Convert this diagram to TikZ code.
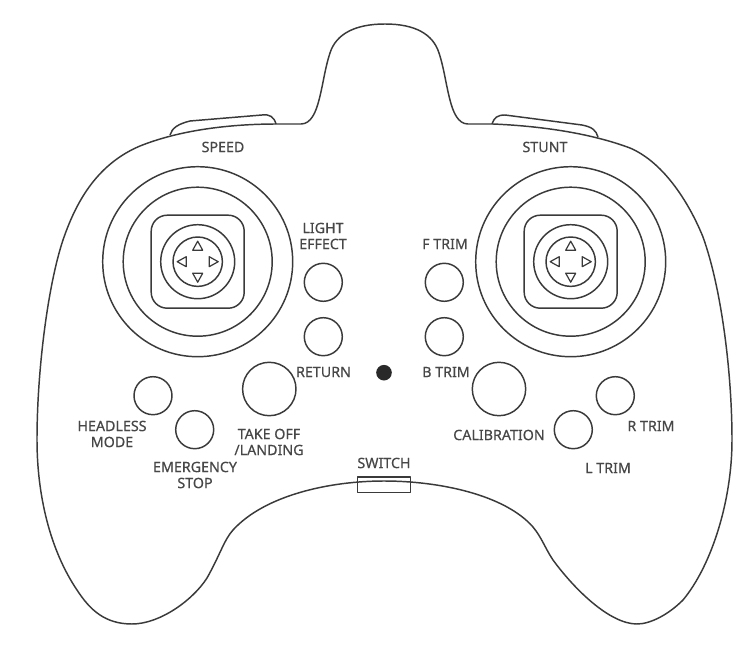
\documentclass[tikz,border=0pt]{standalone}
\usepackage{fontspec}
\setmainfont{Noto Sans}
\newfontfamily\lblfont[FakeBold=0.5]{Noto Sans}
\definecolor{ink}{HTML}{3A3A3A}
\definecolor{txt}{HTML}{474747}
\tikzset{
  line/.style={draw=ink,line width=1.1pt,line join=round},
  lbl/.style={text=txt,inner sep=0pt,align=center,font=\lblfont\fontsize{10.7pt}{12pt}\selectfont},
  btn/.style={line},
  tri/.style={line,line width=0.9pt}
}
\newcommand{\stickpad}[1]{%
  \begin{scope}[shift={(#1)}]
    \draw[line] (0,0) circle[radius=95];
    \draw[line] (0,0) circle[radius=74.5];
    \draw[line,rounded corners=12pt] (-46.5,-46.5) rectangle (46.5,46.5);
    \draw[line] (0,0) circle[radius=37];
    \draw[line] (0,0) circle[radius=24.7];
    \foreach \r in {0,90,180,270}
      \draw[tri,rotate=\r] (-5,-11.5) -- (5,-11.5) -- (0,-20.5) -- cycle;
  \end{scope}}
\begin{document}
\begin{tikzpicture}[x=0.75pt,y=-0.75pt]
\useasboundingbox (0,0) rectangle (754,646);
\fill[white] (0,0) rectangle (754,646);
% body
\draw[line] (277,124) -- (301,124)
 .. controls (311,124) and (316,112) .. (319,100)
 .. controls (323,85) and (325,68) .. (330,53)
 .. controls (336,34) and (355,24) .. (385,24)
 .. controls (415,24) and (433,34) .. (439,53)
 .. controls (444,68) and (446,85) .. (450,100)
 .. controls (453,112) and (458,124) .. (468,124)
 -- (493,124)
 .. controls (540,126) and (590,133) .. (630,148)
 .. controls (665,163) and (690,205) .. (703,237)
 .. controls (722,290) and (732,375) .. (732,440)
 .. controls (732,500) and (712,565) .. (683,600)
 .. controls (668,615) and (650,624) .. (637,624)
 .. controls (610,624) and (575,590) .. (553,560)
 .. controls (545,548) and (542,538) .. (533,527)
 .. controls (505,495) and (440,481) .. (384,481)
 .. controls (330,481) and (265,495) .. (233,530)
 .. controls (224,540) and (220,555) .. (207,578)
 .. controls (193,600) and (160,624) .. (132,624)
 .. controls (105,624) and (90,610) .. (77,590)
 .. controls (50,550) and (37,495) .. (37,440)
 .. controls (37,370) and (48,285) .. (63,240)
 .. controls (75,205) and (95,165) .. (140,146)
 .. controls (180,130) and (230,124) .. (277,124) -- cycle;
% shoulder buttons
\draw[line] (170,135) .. controls (172,128) and (178,124) .. (190,121) -- (262,115) .. controls (270,114) and (274,117) .. (276,124);
\draw[line] (492,124) .. controls (494,118) and (497,115) .. (505,115) -- (582,125) .. controls (592,127) and (596,130) .. (598,137);
% sticks
\stickpad{197.7,261.7}
\stickpad{570.7,261.7}
% buttons
\draw[btn] (323.3,282.3) circle[radius=19];
\draw[btn] (323.3,336.7) circle[radius=19];
\draw[btn] (444.3,282.3) circle[radius=19];
\draw[btn] (444.3,336.7) circle[radius=19];
\draw[btn] (269.3,389) circle[radius=26.7];
\draw[btn] (499,389) circle[radius=26.7];
\draw[btn] (153,395.7) circle[radius=19];
\draw[btn] (194.7,429.7) circle[radius=19];
\draw[btn] (615.3,395.7) circle[radius=19];
\draw[btn] (573.3,429.7) circle[radius=19];
\fill[ink!70!black] (384,372.7) circle[radius=7.8];
% switch
\draw[line] (357.7,477) rectangle (410.7,492.7);
% labels
\node[lbl] (speed) at (223,147) {SPEED};
\node[lbl] (stunt) at (545,147) {STUNT};
\node[lbl] (light) at (323,236) {LIGHT\\EFFECT};
\node[lbl] (ftrim) at (445,244) {F TRIM};
\node[lbl] (return) at (323.5,372) {RETURN};
\node[lbl] (btrim) at (446,372) {B TRIM};
\node[lbl] (headless) at (112,434) {HEADLESS\\MODE};
\node[lbl] (takeoff) at (269,442) {TAKE OFF\\/LANDING};
\node[lbl] (emergency) at (195,475) {EMERGENCY\\STOP};
\node[lbl] (switch) at (384,463) {SWITCH};
\node[lbl] (calib) at (499,435) {CALIBRATION};
\node[lbl] (rtrim) at (651,426) {R TRIM};
\node[lbl] (ltrim) at (608,468) {L TRIM};
\end{tikzpicture}
\end{document}
